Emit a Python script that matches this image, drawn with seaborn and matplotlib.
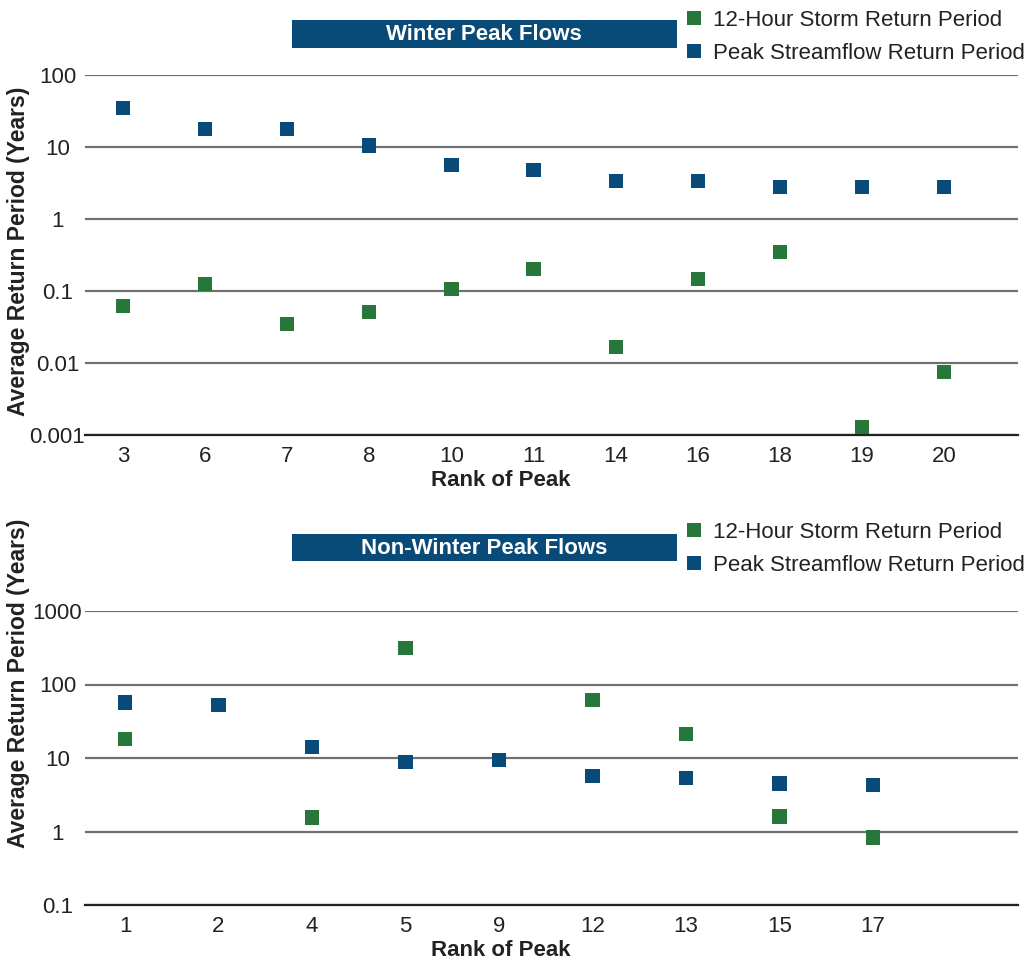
import numpy as np
import pandas as pd
import matplotlib
matplotlib.use("Agg")
import matplotlib.pyplot as plt
from matplotlib.lines import Line2D
from matplotlib.patches import Rectangle
from matplotlib.ticker import FixedLocator, FuncFormatter, NullLocator
import seaborn as sns

# ---------------- data ----------------
winter_rank = ["3", "6", "7", "8", "10", "11", "14", "16", "18", "19", "20"]
winter_storm = [0.062, 0.125, 0.035, 0.051, 0.107, 0.2, 0.0166, 0.147, 0.35, 0.0013, 0.0075]
winter_flow = [35, 18, 18, 10.5, 5.6, 4.8, 3.4, 3.4, 2.8, 2.8, 2.8]

nonwinter_rank = ["1", "2", "4", "5", "9", "12", "13", "15", "17"]
nonwinter_storm = [18, np.nan, 1.55, 316, np.nan, 61, 21, 1.6, 0.83]
nonwinter_flow = [57, 52, 14, 8.8, 9.4, 5.7, 5.4, 4.5, 4.3]

series_names = ["12-Hour Storm Return Period", "Peak Streamflow Return Period"]
titles = ["Winter Peak Flows", "Non-Winter Peak Flows"]

GREEN = "#27773a"
BLUE = "#084a78"
palette = {series_names[0]: GREEN, series_names[1]: BLUE}

sns.set_theme(style="white")
plt.rcParams["font.family"] = ["Liberation Sans", "DejaVu Sans"]

fig = plt.figure(figsize=(10.27, 9.61), dpi=100)
W, H = 1027, 961


def fx(px):
    return px / W


def fy(py):
    return 1 - py / H


def make_df(ranks, storm, flow):
    df = pd.DataFrame({
        "rank": list(ranks) * 2,
        "value": list(storm) + list(flow),
        "series": [series_names[0]] * len(ranks) + [series_names[1]] * len(ranks),
    })
    df["rank"] = pd.Categorical(df["rank"], categories=list(ranks), ordered=True)
    return df


panels = [
    dict(df=make_df(winter_rank, winter_storm, winter_flow), top=75, bot=435,
         ylim=(0.001, 100), ticks=[0.001, 0.01, 0.1, 1, 10, 100],
         xlim=(-0.463, 10.90), box=(20, 48), leg_top=10, title=titles[0],
         ylab_c=251, xlab_top=470),
    dict(df=make_df(nonwinter_rank, nonwinter_storm, nonwinter_flow), top=611, bot=905,
         ylim=(0.1, 1000), ticks=[0.1, 1, 10, 100, 1000],
         xlim=(-0.428, 9.55), box=(534, 561), leg_top=522, title=titles[1],
         ylab_c=683, xlab_top=940),
]

left_px, right_px = 85, 1018
TXT = "#222222"

for p in panels:
    hpx = p["bot"] - p["top"]
    ax = fig.add_axes([fx(left_px), fy(p["bot"]), fx(right_px - left_px), hpx / H])
    sns.scatterplot(data=p["df"], x="rank", y="value", hue="series",
                    palette=palette, marker="s", s=105, linewidth=0,
                    legend=False, ax=ax, zorder=3, clip_on=False)
    ax.set_yscale("log")
    ax.set_ylim(*p["ylim"])
    ax.set_xlim(*p["xlim"])
    ax.yaxis.set_major_locator(FixedLocator(p["ticks"]))
    ax.yaxis.set_minor_locator(NullLocator())
    ax.yaxis.set_major_formatter(FuncFormatter(lambda v, pos: f"{v:g}"))
    ax.grid(axis="y", color="#707070", linewidth=1.6, zorder=0)
    ax.grid(axis="x", visible=False)
    for side in ["left", "right", "top"]:
        ax.spines[side].set_visible(False)
    ax.spines["bottom"].set_color(TXT)
    ax.spines["bottom"].set_linewidth(1.6)
    ax.tick_params(axis="x", length=0, labelsize=16, colors=TXT, pad=8)
    ax.tick_params(axis="y", length=0, labelsize=16, colors=TXT, pad=19.8)
    for lab in ax.get_yticklabels():
        lab.set_horizontalalignment("center")
    ax.set_xlabel("Rank of Peak", fontsize=16, fontweight="bold", color=TXT)
    ax.set_ylabel("Average Return Period (Years)", fontsize=16.5, fontweight="bold",
                  color=TXT)
    ax.xaxis.set_label_coords((501 - left_px) / (right_px - left_px),
                              (p["bot"] - p["xlab_top"]) / hpx)
    ax.yaxis.set_label_coords((19 - left_px) / (right_px - left_px),
                              (p["bot"] - p["ylab_c"]) / hpx)
    ax.xaxis.label.set_verticalalignment("top")
    ax.yaxis.label.set_verticalalignment("center")
    ax.set_facecolor("white")

    # title box
    b0, b1 = p["box"]
    fig.patches.append(Rectangle((fx(292), fy(b1)), fx(677 - 292), (b1 - b0) / H,
                                 transform=fig.transFigure, facecolor=BLUE,
                                 edgecolor="none", zorder=1))
    fig.text(fx(484), fy((b0 + b1) / 2 + 1), p["title"], color="white",
             fontsize=16, fontweight="bold", ha="center", va="center", zorder=2)

    # legend
    handles = [Line2D([], [], linestyle="none", marker="s", markersize=10.5,
                      markerfacecolor=c, markeredgewidth=0) for c in (GREEN, BLUE)]
    ax.legend(handles, series_names, loc="upper left",
              bbox_to_anchor=(fx(686), fy(p["leg_top"])), bbox_transform=fig.transFigure,
              frameon=False, fontsize=16, handlelength=0.7, handletextpad=0.5,
              labelspacing=0.55, borderpad=0, borderaxespad=0, labelcolor=TXT)

fig.savefig("out.png", dpi=100, facecolor="white")
